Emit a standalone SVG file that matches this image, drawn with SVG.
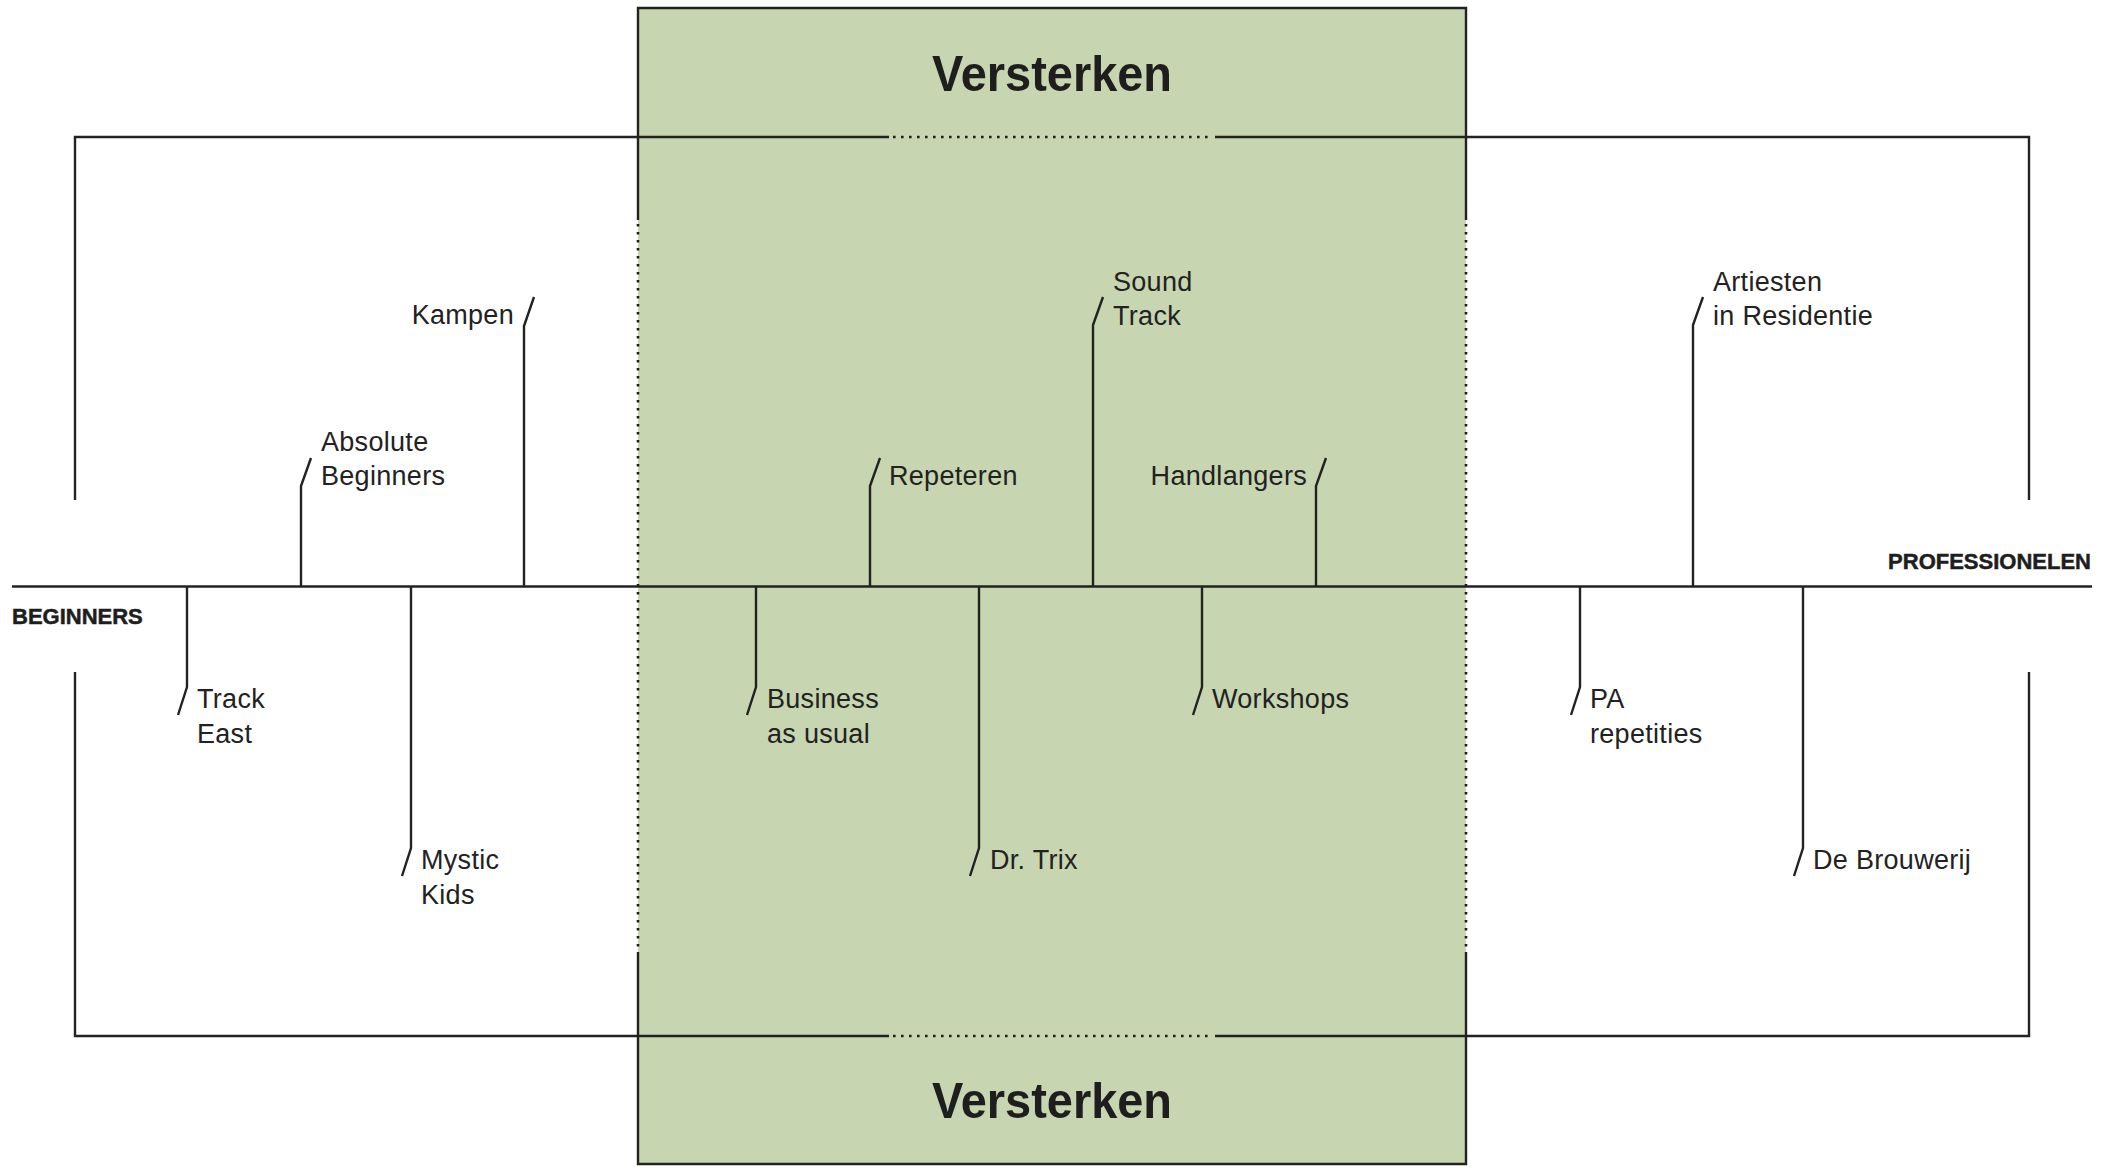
<svg xmlns="http://www.w3.org/2000/svg" width="2119" height="1168" viewBox="0 0 2119 1168">
<style>
.ln{fill:none;stroke:#222;stroke-width:2.4;stroke-linejoin:miter;stroke-linecap:butt}
.dot{fill:none;stroke:#1e1e1e;stroke-width:2.6;stroke-dasharray:2.6 5.4}
.lbl{font-family:"Liberation Sans",Arial,sans-serif;font-size:27px;fill:#222;letter-spacing:0.3px}
.end{text-anchor:end}
.cap{font-family:"Liberation Sans",Arial,sans-serif;font-size:22px;font-weight:bold;fill:#1e1e1e;stroke:#1e1e1e;stroke-width:0.5}
.big{font-family:"Liberation Sans Narrow","Liberation Sans",Arial,sans-serif;font-size:50px;font-weight:bold;fill:#1e1e1e;text-anchor:middle}
</style>
<rect width="2119" height="1168" fill="#ffffff"/>

<g id="zone-versterken">
  <rect x="638" y="8" width="828" height="1156" fill="#c7d5b0"/>
  <path class="ln" d="M638,220 V8 H1466 V220"/>
  <path class="ln" d="M638,952 V1164 H1466 V952"/>
  <path class="dot" d="M638,224 V950 M1466,224 V950"/>
  <text class="big" x="1052" y="91" textLength="240" lengthAdjust="spacingAndGlyphs">Versterken</text>
  <text class="big" x="1052" y="1118" textLength="240" lengthAdjust="spacingAndGlyphs">Versterken</text>
</g>

<g id="connectors">
  <path class="ln" d="M75,500 V137 H889 M1215,137 H2029 V500"/>
  <path class="dot" d="M893,137 H1213"/>
  <path class="ln" d="M75,672 V1036 H889 M1215,1036 H2029 V672"/>
  <path class="dot" d="M893,1036 H1213"/>
  <path class="ln" d="M12,586.5 H2092"/>
</g>

<g id="beginners"><text class="cap" x="12" y="624">BEGINNERS</text></g>
<g id="professionelen"><text class="cap end" x="2091" y="569">PROFESSIONELEN</text></g>

<g id="absolute-beginners">
  <path class="ln" d="M301,586 V486 L311,458"/>
  <text class="lbl" x="321" y="451">Absolute</text>
  <text class="lbl" x="321" y="485">Beginners</text>
</g>
<g id="kampen">
  <path class="ln" d="M524,586 V326 L534,297"/>
  <text class="lbl end" x="514" y="324">Kampen</text>
</g>
<g id="repeteren">
  <path class="ln" d="M870,586 V486 L880,458"/>
  <text class="lbl" x="889" y="485">Repeteren</text>
</g>
<g id="sound-track">
  <path class="ln" d="M1093,586 V325 L1103,297"/>
  <text class="lbl" x="1113" y="291">Sound</text>
  <text class="lbl" x="1113" y="325">Track</text>
</g>
<g id="handlangers">
  <path class="ln" d="M1316,586 V486 L1326,458"/>
  <text class="lbl end" x="1307" y="485">Handlangers</text>
</g>
<g id="artiesten">
  <path class="ln" d="M1693,586 V325 L1703,297"/>
  <text class="lbl" x="1713" y="291">Artiesten</text>
  <text class="lbl" x="1713" y="325">in Residentie</text>
</g>

<g id="track-east">
  <path class="ln" d="M187,587 V687 L178,715"/>
  <text class="lbl" x="197" y="708">Track</text>
  <text class="lbl" x="197" y="743">East</text>
</g>
<g id="mystic-kids">
  <path class="ln" d="M411,587 V848 L402,876"/>
  <text class="lbl" x="421" y="869">Mystic</text>
  <text class="lbl" x="421" y="904">Kids</text>
</g>
<g id="business-as-usual">
  <path class="ln" d="M756,587 V687 L747,715"/>
  <text class="lbl" x="767" y="708">Business</text>
  <text class="lbl" x="767" y="743">as usual</text>
</g>
<g id="dr-trix">
  <path class="ln" d="M979,587 V848 L970,876"/>
  <text class="lbl" x="990" y="869">Dr. Trix</text>
</g>
<g id="workshops">
  <path class="ln" d="M1202,587 V687 L1193,715"/>
  <text class="lbl" x="1212" y="708">Workshops</text>
</g>
<g id="pa-repetities">
  <path class="ln" d="M1580,587 V687 L1571,715"/>
  <text class="lbl" x="1590" y="708">PA</text>
  <text class="lbl" x="1590" y="743">repetities</text>
</g>
<g id="de-brouwerij">
  <path class="ln" d="M1803,587 V848 L1794,876"/>
  <text class="lbl" x="1813" y="869">De Brouwerij</text>
</g>
</svg>
